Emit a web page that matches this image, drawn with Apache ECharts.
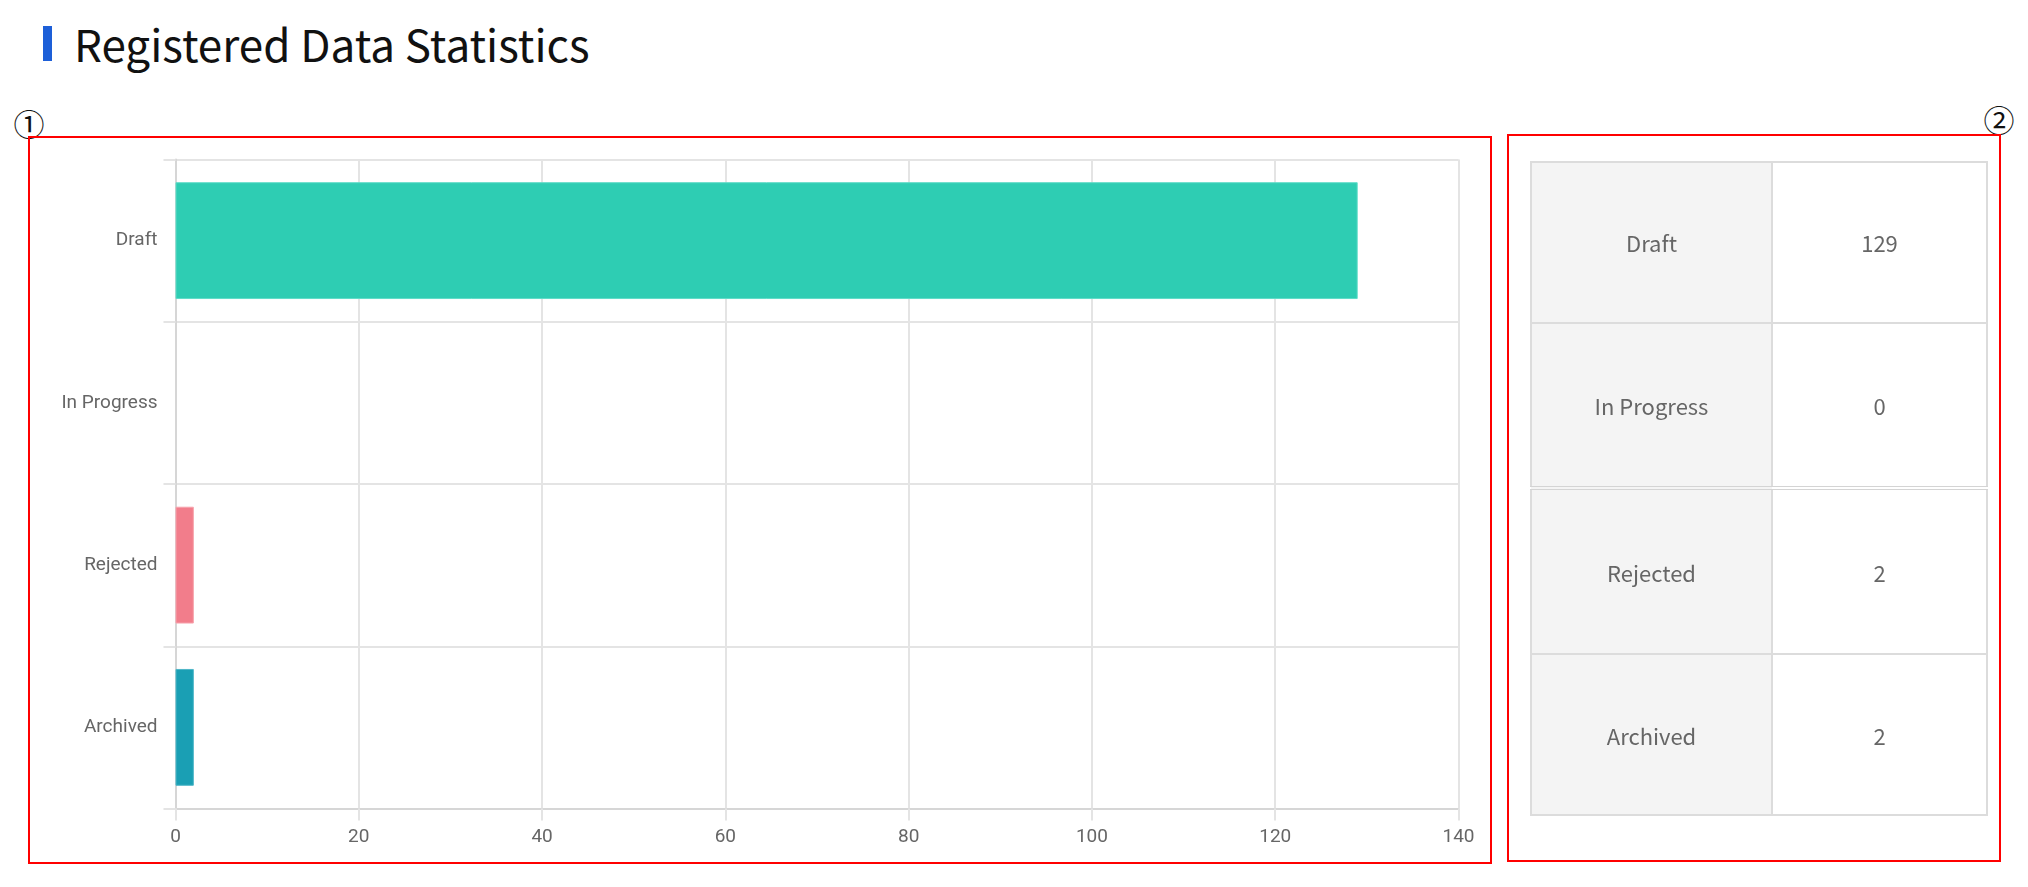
<!DOCTYPE html>
<html>
<head>
<meta charset="utf-8">
<script src="https://cdn.jsdelivr.net/npm/echarts@6/dist/echarts.min.js"></script>
<style>
  html, body { margin: 0; padding: 0; background: #fff; width: 2028px; height: 887px; overflow: hidden; position: relative; }
  #titleBar { position: absolute; left: 43px; top: 26px; width: 9px; height: 35px; background: #1d5fd8; }
  #title { position: absolute; left: 74px; top: 13px; font-family: "Noto Sans CJK KR", "Noto Sans", sans-serif; font-size: 44px; color: #111; line-height: 60px; white-space: nowrap; }
  .mark { position: absolute; width: 40px; text-align: center; font-family: "Noto Sans CJK KR", sans-serif; font-size: 31px; color: #111; line-height: 34px; }
  .redbox { position: absolute; border: 2px solid #ff0000; box-sizing: border-box; }
  #chart { position: absolute; left: 0; top: 0; width: 2028px; height: 887px; }
  #tbl { position: absolute; left: 1530px; top: 161px; width: 458px; height: 655px; border-collapse: collapse; font-family: "Noto Sans CJK KR", sans-serif; font-size: 22px; color: #666; table-layout: fixed; }
  #tbl td { border: 2px solid #dcdcdc; text-align: center; vertical-align: middle; padding: 0; }
  #tbl td.k { background: #f4f4f4; width: 239px; }
  #tbl td.v { background: #fff; }
  #tbl tr.sep td { border-top: 4px double #d4d4d4; }
</style>
</head>
<body>
<div id="titleBar"></div>
<div id="title">Registered Data Statistics</div>
<div class="mark" style="left:9px; top:106px;">①</div>
<div class="mark" style="left:1979px; top:102px;">②</div>
<div class="redbox" style="left:28px; top:136px; width:1464px; height:728px;"></div>
<div class="redbox" style="left:1507px; top:134px; width:494px; height:728px;"></div>
<div id="chart"></div>
<table id="tbl"><tbody id="tbody"></tbody></table>
<script>
// ---- data ----
const categories = ["Draft", "In Progress", "Rejected", "Archived"];
const counts = [129, 0, 2, 2];
const barColors = ["#2ecdb3", "#36a2eb", "#f27d8b", "#1a9fb4"];
const barBorders = ["#5fdcc8", "#6cbdf2", "#f7a3ad", "#4fb7c8"];
const xTicks = { min: 0, max: 140, interval: 20 };

// ---- table ----
const tbody = document.getElementById("tbody");
categories.forEach((c, i) => {
  const tr = document.createElement("tr");
  if (i === 2) tr.className = "sep";
  const k = document.createElement("td"); k.className = "k"; k.textContent = c;
  const v = document.createElement("td"); v.className = "v"; v.textContent = String(counts[i]);
  tr.appendChild(k); tr.appendChild(v);
  tbody.appendChild(tr);
});

// ---- chart ----
const chart = echarts.init(document.getElementById("chart"), null, { renderer: "canvas" });
const gridColor = "#e4e4e4";
chart.setOption({
  animation: false,
  grid: { left: 175.5, top: 159.5, right: 2028 - 1458.5, bottom: 887 - 808.5, containLabel: false },
  xAxis: {
    type: "value",
    min: xTicks.min, max: xTicks.max, interval: xTicks.interval,
    axisLine: { show: true, lineStyle: { color: "#d6d6d6", width: 2 } },
    axisTick: { show: true, length: 12, lineStyle: { color: gridColor, width: 2 } },
    splitLine: { show: true, lineStyle: { color: gridColor, width: 2 } },
    axisLabel: { color: "#666", fontSize: 19, fontFamily: "Roboto", margin: 19 }
  },
  yAxis: {
    type: "category",
    data: categories,
    inverse: true,
    axisLine: { show: true, lineStyle: { color: "#d6d6d6", width: 2 } },
    axisTick: { show: true, length: 12, lineStyle: { color: gridColor, width: 2 } },
    splitLine: { show: true, lineStyle: { color: gridColor, width: 2 } },
    axisLabel: { color: "#666", fontSize: 19, fontFamily: "Roboto", margin: 18 }
  },
  series: [{
    type: "bar",
    barCategoryGap: "28%",
    data: counts.map((v, i) => ({
      value: v,
      itemStyle: { color: barColors[i], borderColor: barBorders[i], borderWidth: v > 0 ? 1 : 0 }
    }))
  }]
});
</script>
</body>
</html>
